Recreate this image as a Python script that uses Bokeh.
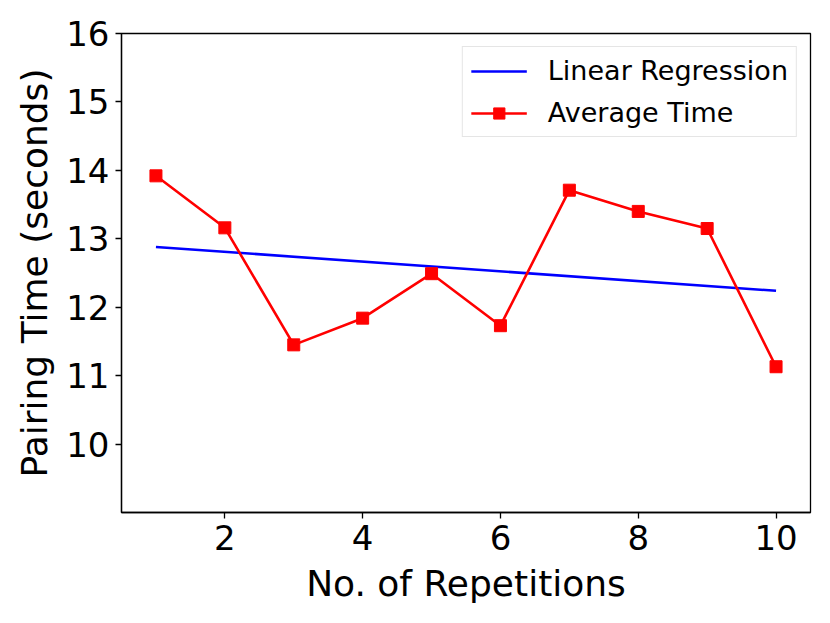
from bokeh.plotting import figure
from bokeh.models import Range1d, FixedTicker, Legend, LegendItem
from bokeh.embed import file_html
from bokeh.resources import INLINE

# ---- data ----
repetitions = [1, 2, 3, 4, 5, 6, 7, 8, 9, 10]
average_time = [13.92, 13.16, 11.45, 11.84, 12.49, 11.73, 13.71, 13.40, 13.15, 11.13]
regression_x = [1, 10]
regression_y = [12.88, 12.24]
x_ticks = [2, 4, 6, 8, 10]
y_ticks = [10, 11, 12, 13, 14, 15, 16]

FONT = "DejaVu Sans"

p = figure(
    frame_width=689, frame_height=479,
    min_border_left=121, min_border_top=33, min_border_right=12, min_border_bottom=100,
    x_range=Range1d(0.5, 10.5), y_range=Range1d(9, 16),
    output_backend="svg", toolbar_location=None,
)
p.grid.visible = False
p.outline_line_color = "black"
p.outline_line_width = 1.3
p.background_fill_color = "white"
p.border_fill_color = "white"

for ax in (p.xaxis[0], p.yaxis[0]):
    ax.axis_line_color = "black"
    ax.axis_line_width = 1.3
    ax.major_tick_line_color = "black"
    ax.major_tick_line_width = 1.3
    ax.major_tick_out = 6
    ax.major_tick_in = 0
    ax.minor_tick_line_color = None
    ax.major_label_text_font = FONT
    ax.major_label_text_font_size = "34px"
    ax.major_label_text_color = "black"
    ax.axis_label_text_font = FONT
    ax.axis_label_text_font_size = "36px"
    ax.axis_label_text_font_style = "normal"
    ax.axis_label_text_color = "black"

p.xaxis.ticker = FixedTicker(ticks=x_ticks)
p.yaxis.ticker = FixedTicker(ticks=y_ticks)
p.xaxis.axis_label = "No. of Repetitions"
p.yaxis.axis_label = "Pairing Time (seconds)"
p.xaxis.major_label_standoff = 6
p.yaxis.major_label_standoff = 6
p.xaxis.axis_label_standoff = 10
p.yaxis.axis_label_standoff = 8

reg = p.line(regression_x, regression_y, line_color="blue", line_width=2.6)
avg_line = p.line(repetitions, average_time, line_color="red", line_width=2.6)
avg_pts = p.scatter(repetitions, average_time, marker="square", size=12,
                    fill_color="red", line_color="red")

legend = Legend(
    items=[
        LegendItem(label="Linear Regression", renderers=[reg]),
        LegendItem(label="Average Time", renderers=[avg_line, avg_pts]),
    ],
    location="top_right",
    margin=13,
    padding=8,
    spacing=11,
    glyph_width=56,
    glyph_height=28,
    label_height=28,
    label_standoff=21,
    label_text_font=FONT,
    label_text_font_size="27px",
    label_text_color="black",
    border_line_color="#cccccc",
    border_line_width=1.3,
    background_fill_color="white",
    background_fill_alpha=0.8,
)
p.add_layout(legend, "center")

open("out.html", "w").write(file_html(p, INLINE))
